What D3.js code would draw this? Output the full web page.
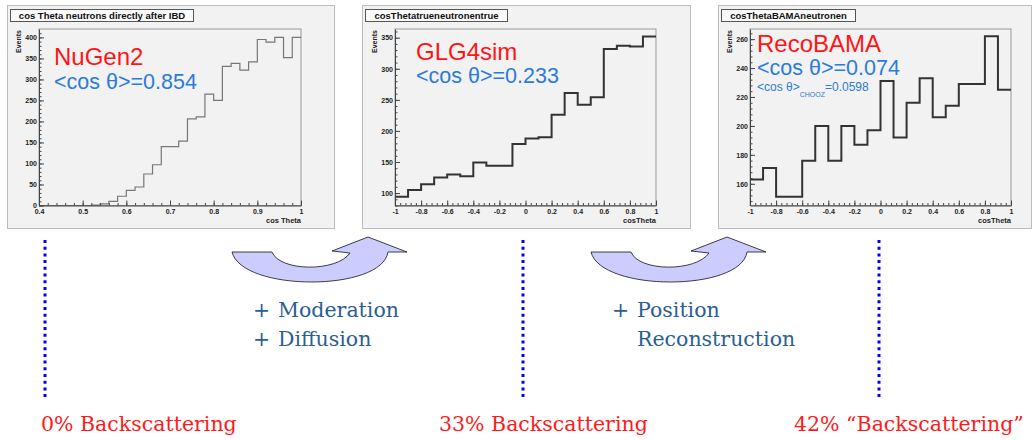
<!DOCTYPE html>
<html>
<head>
<meta charset="utf-8">
<script src="https://cdnjs.cloudflare.com/ajax/libs/d3/7.8.5/d3.min.js"></script>
<style>
  html, body { margin: 0; padding: 0; background: #fff; }
  svg { display: block; }
  .tick text { font-family: "Liberation Sans", Arial, sans-serif; font-weight: bold; font-size: 7px; fill: #222; }
</style>
</head>
<body>
<div id="chart"></div>
<script>
// histogram contents
const nugenEdges = [0.40, 0.42, 0.44, 0.46, 0.48, 0.50, 0.52, 0.54, 0.56, 0.58, 0.60, 0.62, 0.64, 0.66, 0.68, 0.70,
                    0.72, 0.74, 0.76, 0.78, 0.80, 0.82, 0.84, 0.86, 0.88, 0.90, 0.92, 0.94, 0.96, 0.98, 1.00];
const nugenCounts = [0, 0, 0, 0, 0, 0, 1, 4, 10, 22, 36, 44, 75, 97, 140, 140,
                     153, 206, 211, 265, 250, 331, 338, 322, 342, 395, 389, 400, 352, 400];

const cosEdges = [-1.0, -0.9, -0.8, -0.7, -0.6, -0.5, -0.4, -0.3, -0.2, -0.1, 0.0,
                  0.1, 0.2, 0.3, 0.4, 0.5, 0.6, 0.7, 0.8, 0.9, 1.0];
const glgCounts = [94, 105, 114, 125, 130, 127, 149, 144, 144, 179,
                   188, 190, 226, 261, 242, 254, 332, 337, 336, 352];
const bamaCounts = [163, 171, 151, 151, 176, 200, 176, 200, 187, 197,
                    231, 192, 216, 233, 206, 214, 229, 229, 262, 225];

// tick labels
const nugenXTicks = [0.4, 0.5, 0.6, 0.7, 0.8, 0.9, 1];
const nugenYTicks = [0, 50, 100, 150, 200, 250, 300, 350, 400];
const cosXTicks = [-1, -0.8, -0.6, -0.4, -0.2, 0, 0.2, 0.4, 0.6, 0.8, 1];
const glgYTicks = [100, 150, 200, 250, 300, 350];
const bamaYTicks = [160, 180, 200, 220, 240, 260];

// texts
const histTitles = ['cos Theta neutrons directly after IBD', 'cosThetatrueneutronentrue', 'cosThetaBAMAneutronen'];
const xTitles = ['cos Theta', 'cosTheta', 'cosTheta'];
const generators = ['NuGen2', 'GLG4sim', 'RecoBAMA'];
const meanCos = ['0.854', '0.233', '0.074'];
const choozMean = '0.0598';
const steps = [['Moderation', 'Diffusion'], ['Position', 'Reconstruction']];
const backscatter = ['0% Backscattering', '33% Backscattering', '42% \u201CBackscattering\u201D'];

const width = 1033, height = 440;
const svg = d3.select('#chart').append('svg')
    .attr('width', width)
    .attr('height', height);

const panels = [
    {pad: [7, 5, 334, 228], frame: [39, 29, 301, 205.5], xDomain: [0.4, 1], yDomain: [0, 420],
     edges: nugenEdges, counts: nugenCounts, xTicks: nugenXTicks, yTicks: nugenYTicks,
     xMinor: 0.02, yMinor: 10, titleW: 183, line: '#777', lineW: 1.2, labelDy: [36, 60]},
    {pad: [362, 5, 690, 228], frame: [395, 29, 656, 205.5], xDomain: [-1, 1], yDomain: [80, 364],
     edges: cosEdges, counts: glgCounts, xTicks: cosXTicks, yTicks: glgYTicks,
     xMinor: 0.04, yMinor: 10, titleW: 142, line: '#333', lineW: 2, labelDy: [31, 54]},
    {pad: [718, 5, 1031, 228], frame: [750, 29, 1011, 205.5], xDomain: [-1, 1], yDomain: [145, 267],
     edges: cosEdges, counts: bamaCounts, xTicks: cosXTicks, yTicks: bamaYTicks,
     xMinor: 0.04, yMinor: 4, titleW: 134, line: '#333', lineW: 2, labelDy: [23, 46]}
];

const fmt = d => String(+d.toFixed(1));

panels.forEach((p, i) => {
    const [px0, py0, px1, py1] = p.pad;
    const [fx0, fy0, fx1, fy1] = p.frame;
    const g = svg.append('g');

    // pad
    g.append('rect')
        .attr('x', px0 + 0.5).attr('y', py0 + 0.5)
        .attr('width', px1 - px0).attr('height', py1 - py0)
        .attr('fill', '#f2f2f2')
        .attr('stroke', '#bdbdbd');

    const x = d3.scaleLinear().domain(p.xDomain).range([fx0, fx1]);
    const y = d3.scaleLinear().domain(p.yDomain).range([fy1, fy0]);

    // frame
    g.append('rect')
        .attr('x', fx0).attr('y', fy0)
        .attr('width', fx1 - fx0).attr('height', fy1 - fy0)
        .attr('fill', 'none')
        .attr('stroke', '#999');

    // histogram
    const pts = p.edges.map((e, k) => [e, p.counts[Math.min(k, p.counts.length - 1)]]);
    const line = d3.line()
        .x(d => x(d[0]))
        .y(d => y(d[1]))
        .curve(d3.curveStepAfter);
    g.append('path')
        .datum(pts)
        .attr('d', line)
        .attr('fill', 'none')
        .attr('stroke', p.line)
        .attr('stroke-width', p.lineW);

    // minor ticks
    const xm = d3.range(p.xDomain[0], p.xDomain[1] + 1e-9, p.xMinor);
    const ym = d3.range(Math.ceil(p.yDomain[0] / p.yMinor) * p.yMinor, p.yDomain[1], p.yMinor);
    g.append('g')
        .attr('transform', `translate(0,${fy1})`)
        .call(d3.axisBottom(x).tickValues(xm).tickSize(-2.5).tickSizeOuter(0).tickFormat(''))
        .call(a => a.select('.domain').remove())
        .selectAll('line').attr('stroke', '#444');
    g.append('g')
        .attr('transform', `translate(${fx0},0)`)
        .call(d3.axisLeft(y).tickValues(ym).tickSize(-2.5).tickSizeOuter(0).tickFormat(''))
        .call(a => a.select('.domain').remove())
        .selectAll('line').attr('stroke', '#444');

    // major ticks + labels
    const xa = g.append('g')
        .attr('transform', `translate(0,${fy1})`)
        .call(d3.axisBottom(x).tickValues(p.xTicks).tickSize(-5).tickSizeOuter(0).tickPadding(4).tickFormat(fmt));
    const ya = g.append('g')
        .attr('transform', `translate(${fx0},0)`)
        .call(d3.axisLeft(y).tickValues(p.yTicks).tickSize(-5).tickSizeOuter(0).tickPadding(2).tickFormat(fmt));
    [xa, ya].forEach(a => {
        a.select('.domain').attr('stroke', '#444');
        a.selectAll('.tick line').attr('stroke', '#444');
    });

    // axis titles
    g.append('text')
        .attr('x', fx1).attr('y', fy1 + 17)
        .attr('text-anchor', 'end')
        .style('font', 'bold 7.5px "Liberation Sans", Arial, sans-serif')
        .attr('fill', '#222')
        .text(xTitles[i]);
    g.append('text')
        .attr('transform', `translate(${fx0 - 18},${fy0 + 1}) rotate(-90)`)
        .attr('text-anchor', 'end')
        .style('font', 'bold 7px "Liberation Sans", Arial, sans-serif')
        .attr('fill', '#222')
        .text('Events');

    // title box
    g.append('rect')
        .attr('x', px0 + 3.5).attr('y', 9.5)
        .attr('width', p.titleW).attr('height', 12)
        .attr('fill', '#fafafa')
        .attr('stroke', '#555');
    g.append('text')
        .attr('x', px0 + 3.5 + p.titleW / 2).attr('y', 18.5)
        .attr('text-anchor', 'middle')
        .style('font', 'bold 9.5px "Liberation Sans", Arial, sans-serif')
        .attr('fill', '#111')
        .text(histTitles[i]);

    // generator label and mean
    const lx = fx0 + (i === 2 ? 7 : 15) + (i === 1 ? 6 : 0);
    g.append('text')
        .attr('x', lx).attr('y', fy0 + p.labelDy[0])
        .style('font', '24px "Liberation Sans", Arial, sans-serif')
        .attr('fill', '#ff1515')
        .text(generators[i]);
    g.append('text')
        .attr('x', lx).attr('y', fy0 + p.labelDy[1])
        .style('font', '21.5px "Liberation Sans", Arial, sans-serif')
        .attr('fill', '#2c7bd8')
        .text(`<cos \u03B8>=${meanCos[i]}`);
    if (i === 2) {
        const t = g.append('text')
            .attr('x', lx).attr('y', fy0 + 62)
            .style('font', '12px "Liberation Sans", Arial, sans-serif')
            .attr('fill', '#2c7bd8');
        t.append('tspan').text('<cos \u03B8>');
        t.append('tspan').attr('dy', 6).style('font-size', '7px').text('CHOOZ');
        t.append('tspan').attr('dy', -6).text('=' + choozMean);
    }
});

// curved arrows between the panels
const arrow = d3.path();
arrow.moveTo(0, 0);
arrow.lineTo(40, 0);
arrow.bezierCurveTo(48, 20, 105, 20, 118, 1);
arrow.lineTo(100, -1);
arrow.lineTo(136, -15);
arrow.lineTo(175, 0);
arrow.lineTo(156, 0);
arrow.bezierCurveTo(150, 40, 10, 40, 0, 0);
arrow.closePath();

[232, 591].forEach(ax => {
    svg.append('path')
        .attr('transform', `translate(${ax},252)`)
        .attr('d', arrow.toString())
        .attr('fill', '#ccccff')
        .attr('stroke', '#111')
        .attr('stroke-width', 0.8);
});

// processing steps
const serif = '"DejaVu Serif", "Liberation Serif", serif';
[253, 612].forEach((sx, i) => {
    const g = svg.append('g')
        .style('font', `20.5px ${serif}`)
        .attr('fill', '#2b5e92');
    g.append('text').attr('x', sx).attr('y', 317).text('+');
    g.append('text').attr('x', sx + 25).attr('y', 317).text(steps[i][0]);
    if (i === 0) g.append('text').attr('x', sx).attr('y', 346).text('+');
    g.append('text').attr('x', sx + 25).attr('y', 346).text(steps[i][1]);
});

// dotted markers and backscattering fractions
[45, 523, 879].forEach(lx => {
    svg.append('line')
        .attr('x1', lx).attr('x2', lx)
        .attr('y1', 240).attr('y2', 399)
        .attr('stroke', '#0000ff')
        .attr('stroke-width', 3)
        .attr('stroke-dasharray', '3,3.7');
});
[41, 439, 794].forEach((bx, i) => {
    svg.append('text')
        .attr('x', bx).attr('y', 431)
        .style('font', `20.5px ${serif}`)
        .attr('fill', '#ff1a1a')
        .text(backscatter[i]);
});
</script>
</body>
</html>
